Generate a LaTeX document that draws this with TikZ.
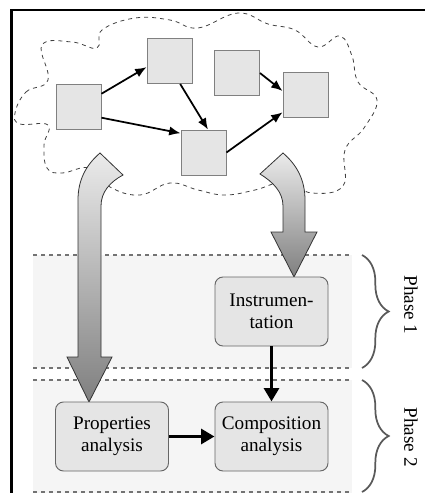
\documentclass[tikz,border=0pt]{standalone}
\usepackage{fontspec}
\setmainfont{Liberation Serif}
\usepackage{tikz}
\usetikzlibrary{arrows.meta, positioning, calc, decorations.pathreplacing, shadings}

\begin{document}
\begin{tikzpicture}[
    x=0.75pt, y=-0.75pt,
    sq/.style={rectangle, draw=black!50, fill=black!10, line width=0.7pt, minimum size=33.75pt, inner sep=0pt},
    box/.style={rectangle, rounded corners=6pt, draw=black!60, fill=black!10, line width=0.7pt, minimum width=84.75pt, minimum height=51.75pt, align=center, inner sep=1pt, font=\fontsize{14.4}{16.5}\selectfont},
    link/.style={-{Latex[length=8.5pt,width=7pt]}, line width=1.3pt},
    flow/.style={-{Triangle[length=10pt,width=11pt]}, line width=2.6pt},
    bigarrow/.style={draw=black!80, line width=0.6pt, top color=black!8, bottom color=black!50},
    band/.style={fill=black!4},
    sep/.style={draw=black!55, dashed, line width=0.8pt},
    phasebrace/.style={decorate, decoration={brace, amplitude=20pt}, draw=black!65, line width=1.3pt},
    phaselabel/.style={rotate=-90, font=\fontsize{14.4}{16}\selectfont}
]
\useasboundingbox (0,0) rectangle (425,493);

% Phase bands
\fill[band] (33,255) rectangle (352,368);
\fill[band] (33,380) rectangle (352,493);
\draw[sep] (33,255) -- (352,255);
\draw[sep] (33,368) -- (352,368);
\draw[sep] (33,380) -- (352,380);
\draw[sep] (33,492) -- (352,492);

% Cloud
\draw[black!75, dashed, line width=0.6pt] plot[smooth cycle, tension=0.7] coordinates {
    (15,113) (26,92) (48,80) (42,45) (72,42) (97,48) (102,30) (135,18) (170,20)
    (198,28) (238,13) (268,24) (295,30) (318,47) (340,36) (352,56) (358,82) (377,100)
    (364,128) (345,150) (343,186) (312,193) (285,182) (255,190) (225,195) (198,190)
    (170,183) (140,195) (110,187) (90,168) (62,173) (47,168) (44,145) (48,125) (20,124)};

% Tasks
\node[sq] (sqA) at (78.5,107) {};
\node[sq] (sqB) at (169.5,61) {};
\node[sq] (sqC) at (237,73) {};
\node[sq] (sqD) at (305.5,95) {};
\node[sq] (sqE) at (203.5,152.5) {};

\draw[link] (sqA.30) -- (sqB.195);
\draw[link] (sqA.-25) -- (sqE.140);
\draw[link] (sqB.-65) -- (sqE.79);
\draw[link] (sqC.east) -- (sqD.170);
\draw[link] (sqE.east) -- (sqD.-143);

% Big arrows
\shade[bigarrow] (100,153) .. controls (86,165) and (78,180) .. (78,200) -- (78,357) -- (67,357)
    -- (89,402) -- (112,357) -- (101,357) -- (101,206) .. controls (101,192) and (110,182) .. (123,175) -- cycle;
\shade[bigarrow] (283,153) .. controls (297,165) and (305,180) .. (305,200) -- (305,232) -- (317,232)
    -- (294,277) -- (271,232) -- (283,232) -- (283,206) .. controls (283,192) and (273,182) .. (260,174) -- cycle;

% Analysis steps
\node[box] (instr) at (271.5,311.5) {Instrumen-\\tation};
\node[box] (props) at (112,436.5) {Properties\\analysis};
\node[box] (comp) at (271.5,436.5) {Composition\\analysis};

\draw[flow] (instr) -- (comp);
\draw[flow] (props) -- (comp);

% Phases
\draw[phasebrace] (362,255) -- (362,368);
\draw[phasebrace] (362,380) -- (362,492);
\node[phaselabel] (ph1) at (411,305) {Phase 1};
\node[phaselabel] (ph2) at (411,437) {Phase 2};

% Frame
\draw[line width=1.6pt] (425,10) -- (11.5,10) -- (11.5,493);
\end{tikzpicture}
\end{document}
